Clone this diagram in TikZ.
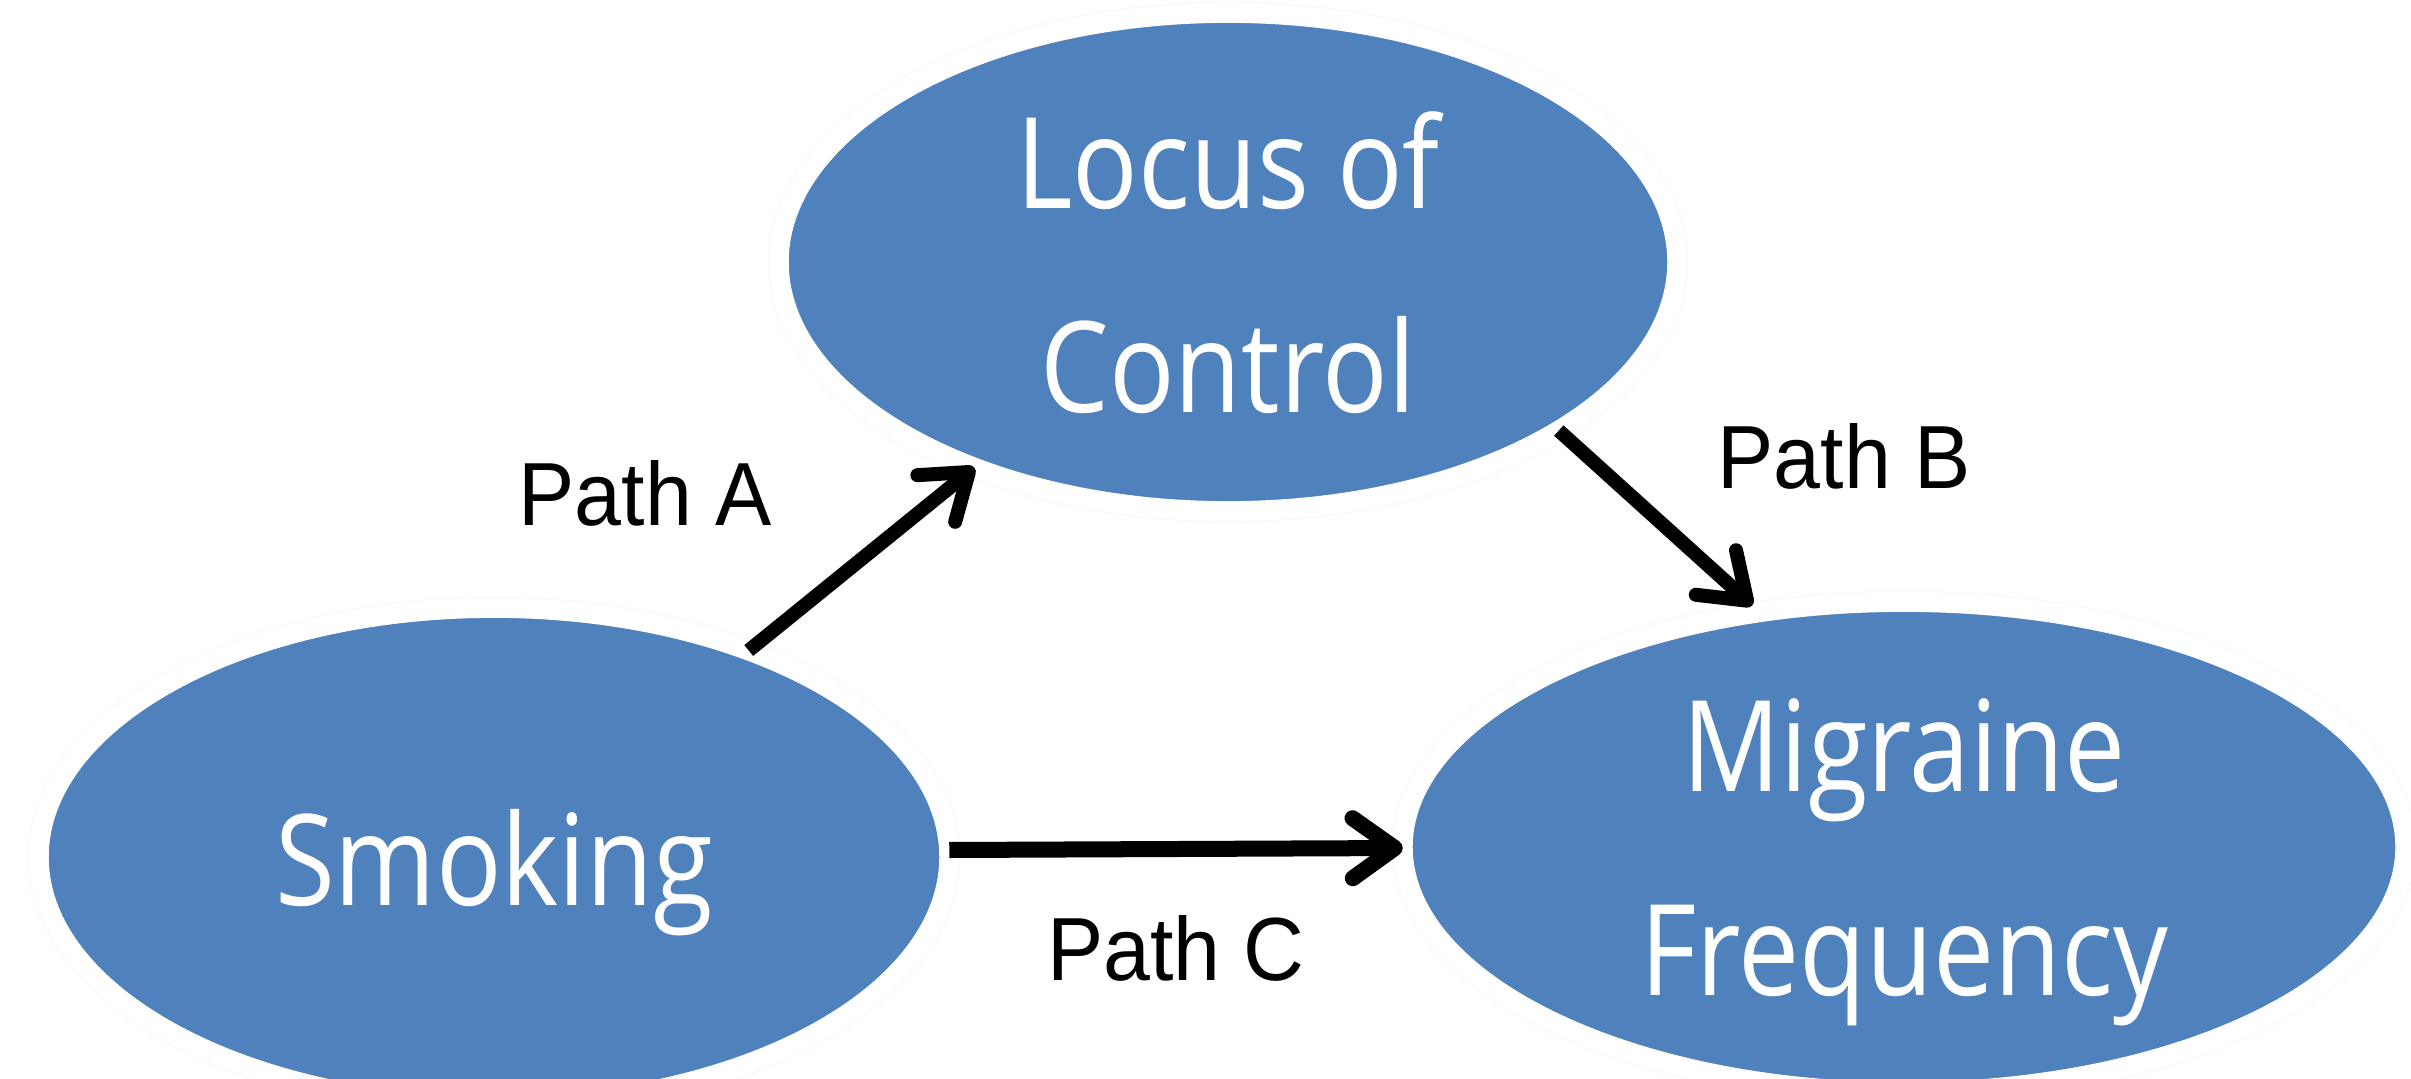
\documentclass[tikz,border=0pt]{standalone}
\usepackage{fontspec}
\setmainfont[FakeStretch=0.94]{Liberation Sans}
\newfontfamily\ellfont[FakeStretch=0.86]{Open Sans}
\usetikzlibrary{arrows.meta,shapes.geometric}
\definecolor{ellblue}{RGB}{79,129,189}
\tikzset{
  blob/.style={ellipse, fill=ellblue, draw=white, line width=0.2cm,
    preaction={draw=black!3, line width=0.22cm},
    inner sep=0pt, outer sep=0pt,
    text=white, align=center, text depth=0pt,
    font=\ellfont\fontsize{36pt}{57.8pt}\selectfont},
  pathlabel/.style={anchor=base, inner sep=0pt, font=\fontsize{25.5pt}{30pt}\selectfont},
  conn/.style={line width=0.14cm,
    -{Straight Barb[length=0.42cm, width=0.6cm, line cap=round, line join=round]}},
  thickconn/.style={conn, line width=0.16cm}
}
\begin{document}
\begin{tikzpicture}[x=0.01cm, y=-0.01cm]
  \useasboundingbox (0,0) rectangle (2411,1078);
  \clip (0,0) rectangle (2411,1078);
  \fill[white] (0,0) rectangle (2411,1078);
  \node[blob, minimum width=8.98cm, minimum height=4.98cm] (locus) at (1228,262) {Locus of\\Control};
  \node[blob, minimum width=9.10cm, minimum height=4.98cm] (smoking) at (494,857) {Smoking};
  \node[blob, minimum width=10.02cm, minimum height=4.90cm] (migraine) at (1904,847) {Migraine\\Frequency};
  \node[pathlabel] (pa) at (645,525) {Path A};
  \node[pathlabel] (pb) at (1844,488) {Path B};
  \node[pathlabel] (pc) at (1176,980) {Path C};
  \draw[conn] (smoking) -- (locus);
  \draw[conn] (locus.-27) -- ([yshift=0.08cm]migraine.123);
  \draw[thickconn] ([yshift=0.07cm]smoking.east) -- ([yshift=-0.01cm]migraine.west);
\end{tikzpicture}
\end{document}
